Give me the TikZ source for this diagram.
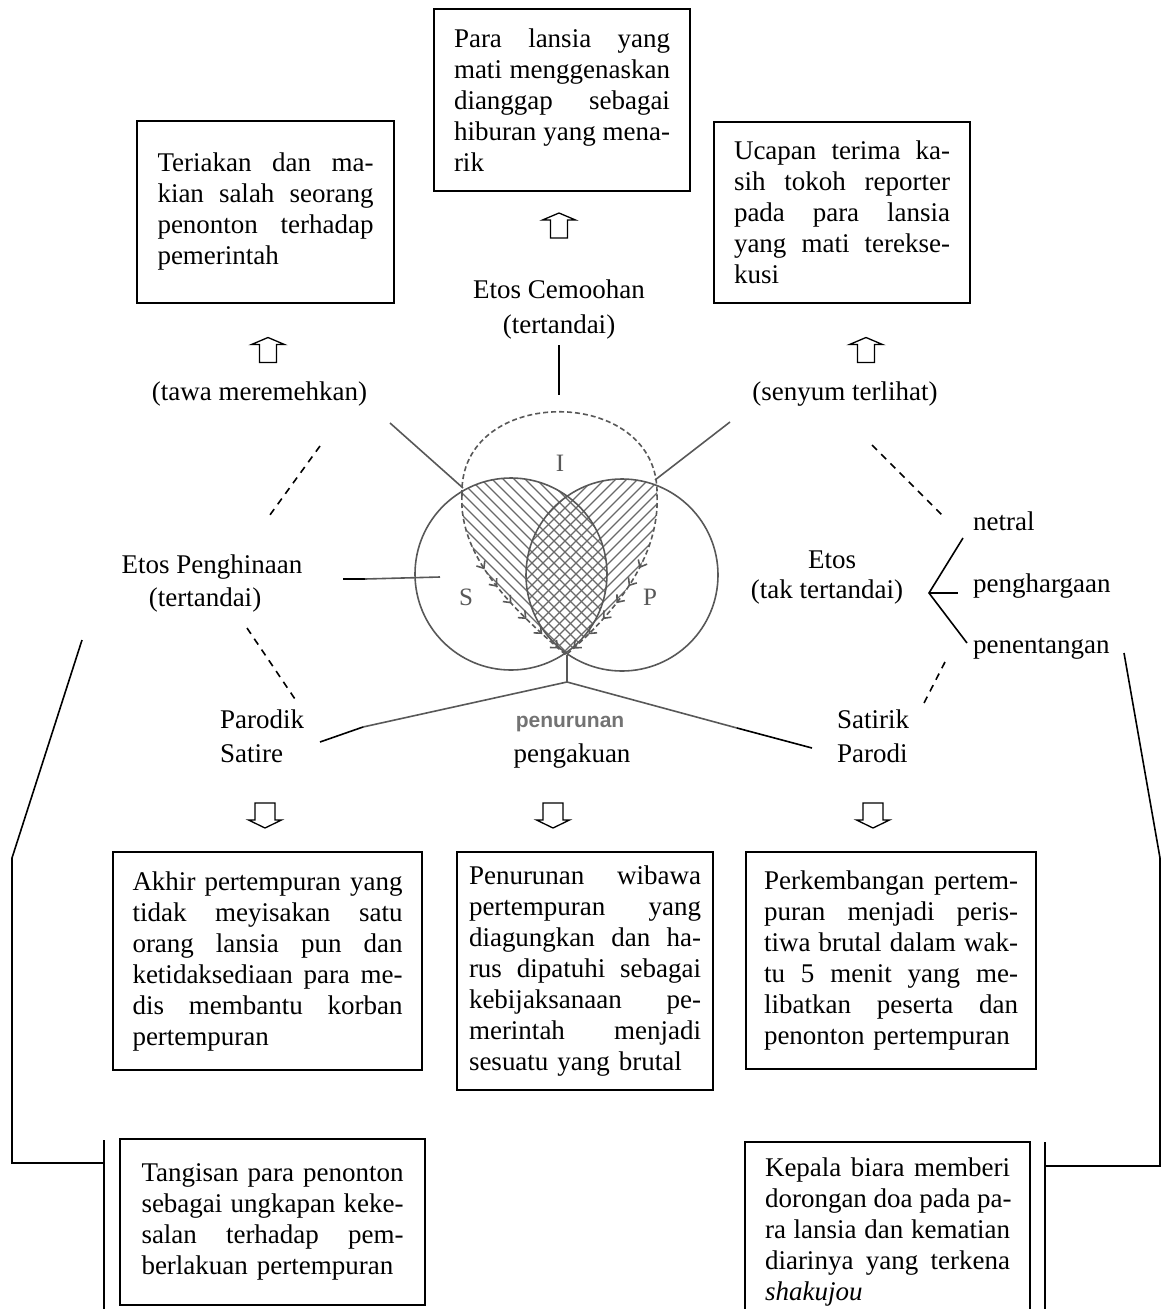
\documentclass[tikz,border=0pt]{standalone}
\usepackage{fontspec}
\setmainfont{Liberation Serif}
\newfontfamily\scanfont{Liberation Sans}
\usetikzlibrary{arrows.meta,decorations.markings}

\definecolor{venngray}{RGB}{88,88,88}
\definecolor{hatchgray}{RGB}{105,105,105}
\definecolor{scantext}{RGB}{115,115,115}

% one justified line of a text box, \colwidth wide
\newlength{\colwidth}
\newcommand{\jline}[1]{\makebox[\colwidth][s]{\spaceskip=0.25em plus 1fil\relax #1}\\}

\begin{document}
\begin{tikzpicture}[x=1pt,y=-1pt,
  every node/.style={font=\fontsize{27}{31}\selectfont, inner sep=0pt},
  txtbox/.style={draw, line width=1.6pt, align=left},
  colw/.style={text width=#1, execute at begin node={\setlength{\colwidth}{#1}}},
  link/.style={line width=1.6pt},
  dashlink/.style={line width=1.6pt, dash pattern=on 7pt off 6pt},
  scan/.style={draw=venngray, line width=1.6pt},
  hatch/.style={draw=hatchgray, line width=1.1pt},
  iside/.style={scan, dash pattern=on 5pt off 3pt,
    postaction={decorate, decoration={markings,
      mark=between positions 0.4 and 0.96 step 0.11 with
        {\arrow[solid]{Straight Barb[length=6pt, width=10pt]}}}}},
  vennlbl/.style={font=\fontsize{25}{25}\selectfont, text=venngray},
  uparrow/.pic={\draw[line width=1.3pt]
    (-8.5,12.5) -- (-8.5,-5.5) -- (-16.5,-5.5) -- (0,-12.5) -- (16.5,-5.5) -- (8.5,-5.5) -- (8.5,12.5) -- cycle;},
  downarrow/.pic={\draw[line width=1.3pt]
    (-10,-12.5) -- (-10,4.5) -- (-16.5,4.5) -- (0,12.5) -- (16.5,4.5) -- (10,4.5) -- (10,-12.5) -- cycle;}
]
\useasboundingbox (0,0) rectangle (1163,1309);

% ---------- text boxes ----------
\node[txtbox, colw=216pt, inner xsep=20.5pt, minimum height=182pt] (tl) at (265.5,212)
  {\jline{Teriakan dan ma-}\jline{kian salah seorang}\jline{penonton terhadap}pemerintah};
\node[txtbox, colw=216pt, inner xsep=20pt, minimum height=182pt] (tc) at (562,100)
  {\jline{Para lansia yang}\jline{mati menggenaskan}\jline{dianggap sebagai}\jline{hiburan yang mena-}rik};
\node[txtbox, colw=216pt, inner xsep=20pt, minimum height=181pt] (tr) at (842,212.5)
  {\jline{Ucapan terima ka-}\jline{sih tokoh reporter}\jline{pada para lansia}\jline{yang mati terekse-}kusi};

\node[txtbox, colw=270pt, inner xsep=19.5pt, minimum height=218pt] (akhir) at (267.5,961)
  {\jline{Akhir pertempuran yang}\jline{tidak meyisakan satu}\jline{orang lansia pun dan}\jline{ketidaksediaan para me-}\jline{dis membantu korban}pertempuran};
\node[txtbox, colw=232pt, inner xsep=12pt, minimum height=238pt] (turun) at (585,971)
  {\jline{Penurunan wibawa}\jline{pertempuran yang}\jline{diagungkan dan ha-}\jline{rus dipatuhi sebagai}\jline{kebijaksanaan pe-}\jline{merintah menjadi}sesuatu yang brutal};
\node[txtbox, colw=254pt, inner xsep=18pt, minimum height=217pt] (kemb) at (891,960.5)
  {\jline{Perkembangan pertem-}\jline{puran menjadi peris-}\jline{tiwa brutal dalam wak-}\jline{tu 5 menit yang me-}\jline{libatkan peserta dan}penonton pertempuran};

\node[txtbox, colw=262pt, inner xsep=21.5pt, minimum height=166pt] (tangis) at (272.5,1222)
  {\jline{Tangisan para penonton}\jline{sebagai ungkapan keke-}\jline{salan terhadap pem-}berlakuan pertempuran};
\node[txtbox, colw=245pt, inner xsep=20pt, minimum height=180pt] (kepala) at (887.5,1232)
  {\jline{Kepala biara memberi}\jline{dorongan doa pada pa-}\jline{ra lansia dan kematian}\jline{diarinya yang terkena}\textit{shakujou}};

% ---------- block arrows ----------
\pic at (559,225.5) {uparrow};
\pic at (268,350) {uparrow};
\pic at (866,350) {uparrow};
\pic at (265,815.5) {downarrow};
\pic at (553,815.5) {downarrow};
\pic at (873,815.5) {downarrow};

% ---------- labels ----------
\node[anchor=base] (cemooh) at (559,298) {Etos Cemoohan};
\node[anchor=base] (tert1) at (559,333) {(tertandai)};
\node[anchor=base] (tawa) at (259.5,400) {(tawa meremehkan)};
\node[anchor=base] (senyum) at (845,400) {(senyum terlihat)};
\node[anchor=base] (hina) at (212,573) {Etos Penghinaan};
\node[anchor=base] (tert2) at (205,606) {(tertandai)};
\node[anchor=base] (etos) at (832,568) {Etos};
\node[anchor=base] (taktert) at (827,598) {(tak tertandai)};
\node[anchor=base west] (netral) at (973,530) {netral};
\node[anchor=base west] (harga) at (973,592) {penghargaan};
\node[anchor=base west] (tentang) at (973,653) {penentangan};
\node[anchor=base west] (parodik) at (220,728) {Parodik};
\node[anchor=base west] (satire) at (220,762) {Satire};
\node[anchor=base west] (satirik) at (837,728) {Satirik};
\node[anchor=base west] (parodi) at (837,762) {Parodi};
\node[anchor=base] (akui) at (572,762) {pengakuan};
\node[anchor=base, font={\scanfont\bfseries\fontsize{21}{21}\selectfont}, text=scantext] (turunlbl) at (570,727) {penurunan};

% ---------- Venn figure ----------
% hatching S with I
\begin{scope}
  \clip (511,574) circle[radius=96];
  \clip (462,495) .. controls (458,384) and (660,384) .. (657,495)
        .. controls (660,560) and (612,615) .. (566,655)
        .. controls (520,615) and (458,560) .. (462,495) -- cycle;
  \foreach \k in {-330,-319,...,330}
    \draw[hatch] (\k+360,380) -- (\k+660,680);
\end{scope}
% hatching P with I
\begin{scope}
  \clip (622,575) circle[radius=96];
  \clip (462,495) .. controls (458,384) and (660,384) .. (657,495)
        .. controls (660,560) and (612,615) .. (566,655)
        .. controls (520,615) and (458,560) .. (462,495) -- cycle;
  \foreach \k in {-330,-319,...,330}
    \draw[hatch] (\k+360,680) -- (\k+660,380);
\end{scope}

\draw[scan] (511,574) circle[radius=96];
\draw[scan] (622,575) circle[radius=96];
\draw[scan, dash pattern=on 5pt off 3pt] (462,495) .. controls (458,384) and (660,384) .. (657,495);
\draw[iside] (462,495) .. controls (458,560) and (520,615) .. (566,655);
\draw[iside] (657,495) .. controls (660,560) and (612,615) .. (566,655);

\node[vennlbl] (lblI) at (560,463) {I};
\node[vennlbl] (lblS) at (466,597) {S};
\node[vennlbl] (lblP) at (650,597) {P};

% ---------- connectors ----------
\coordinate (glA) at (390,423);  \coordinate (glB) at (463,488);
\coordinate (grA) at (730,422);  \coordinate (grB) at (655,480);
\draw[scan] (glA) -- (glB);
\draw[scan] (grB) -- (grA);

\coordinate (hA) at (343,579); \coordinate (hB) at (365,579); \coordinate (hC) at (440,577);
\draw[link] (hA) -- (hB);
\draw[scan] (hB) -- (hC);

\coordinate (vTop) at (559,345); \coordinate (vBot) at (559,395);
\draw[link] (vTop) -- (vBot);

\coordinate (stemT) at (567,655); \coordinate (stemB) at (567,682);
\coordinate (bl) at (363,727); \coordinate (blEnd) at (320,742);
\coordinate (br) at (737,728); \coordinate (brEnd) at (812,748);
\draw[scan] (stemT) -- (stemB);
\draw[scan] (stemB) -- (bl);
\draw[scan] (stemB) -- (br);
\draw[link] (bl) -- (blEnd);
\draw[link] (br) -- (brEnd);

\coordinate (d1a) at (320,446); \coordinate (d1b) at (267,519);
\coordinate (d2a) at (872,445); \coordinate (d2b) at (945,518);
\coordinate (d3a) at (247,628); \coordinate (d3b) at (297,702);
\coordinate (d4a) at (945,662); \coordinate (d4b) at (923,705);
\draw[dashlink] (d1a) -- (d1b);
\draw[dashlink] (d2a) -- (d2b);
\draw[dashlink] (d3a) -- (d3b);
\draw[dashlink] (d4a) -- (d4b);

\coordinate (fork) at (929,593);
\coordinate (fN) at (963,538); \coordinate (fH) at (958,593); \coordinate (fT) at (967,643);
\draw[link] (fN) -- (fork) -- (fT);
\draw[link] (fork) -- (fH);

\coordinate (lA) at (82,640); \coordinate (lB) at (12,858); \coordinate (lC) at (12,1163); \coordinate (lD) at (104,1163);
\draw[link] (lA) -- (lB) -- (lC) -- (lD);
\coordinate (lV1) at (104,1140); \coordinate (lV2) at (104,1320);
\draw[link] (lV1) -- (lV2);

\coordinate (rA) at (1124,653); \coordinate (rB) at (1160,858); \coordinate (rC) at (1160,1166); \coordinate (rD) at (1045,1166);
\draw[link] (rA) -- (rB) -- (rC) -- (rD);
\coordinate (rV1) at (1045,1142); \coordinate (rV2) at (1045,1320);
\draw[link] (rV1) -- (rV2);
\end{tikzpicture}
\end{document}
